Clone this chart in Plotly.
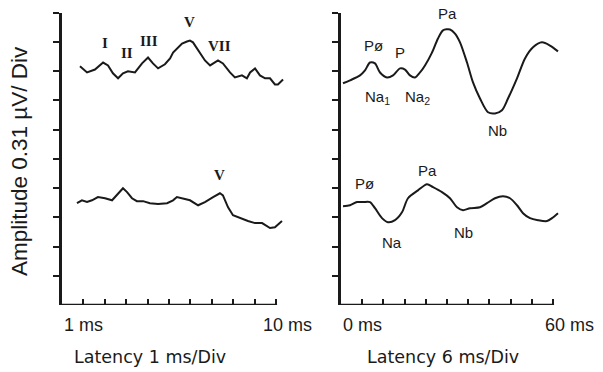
import plotly.graph_objects as go

# ---------------- data (latency in ms, amplitude in divisions of 0.31 uV) -------------
abr_top_ms = [0.84, 1.17, 1.54, 1.92, 2.15, 2.38, 2.62, 2.85, 3.08, 3.41, 3.74, 4.02, 4.25,
              4.49, 4.81, 5.05, 5.19, 5.42, 5.61, 5.84, 5.98, 6.12, 6.36, 6.68, 6.92, 7.29,
              7.52, 7.85, 8.08, 8.41, 8.64, 8.79, 9.02, 9.25, 9.49, 9.72, 9.95, 10.09, 10.33]
abr_top_amp = [8.16, 7.95, 8.05, 8.29, 8.19, 7.92, 7.75, 7.92, 7.99, 7.95, 8.26, 8.46, 8.26,
               8.09, 8.23, 8.43, 8.63, 8.81, 8.94, 9.01, 9.04, 8.98, 8.70, 8.36, 8.19, 8.36,
               8.26, 7.95, 7.78, 7.85, 7.75, 7.95, 8.09, 7.85, 7.75, 7.75, 7.54, 7.54, 7.71]

abr_bot_ms = [0.70, 0.93, 1.17, 1.40, 1.68, 2.01, 2.34, 2.57, 2.85, 3.04, 3.27, 3.50, 3.79,
              4.11, 4.49, 4.91, 5.19, 5.37, 5.61, 5.98, 6.36, 6.68, 7.06, 7.38, 7.52, 7.76,
              7.99, 8.41, 8.69, 9.02, 9.35, 9.72, 9.95, 10.28]
abr_bot_amp = [3.48, 3.58, 3.52, 3.58, 3.69, 3.65, 3.58, 3.75, 3.99, 3.86, 3.65, 3.55, 3.55,
               3.48, 3.45, 3.48, 3.58, 3.69, 3.65, 3.58, 3.41, 3.52, 3.69, 3.82, 3.75, 3.34,
               3.07, 2.94, 2.87, 2.80, 2.80, 2.63, 2.66, 2.87]

mlr_top_ms = [-5.43, -3.45, -0.62, 0.79, 2.21, 3.62, 5.04, 7.02, 8.72, 10.70, 12.11, 13.53,
              14.94, 16.36, 17.77, 19.75, 21.45, 22.87, 24.85, 26.26, 27.68, 29.66, 31.36,
              33.34, 35.60, 37.58, 39.56, 41.26, 43.81, 46.07, 48.34, 50.88, 53.15, 55.41]
mlr_top_amp = [7.58, 7.68, 7.85, 8.02, 8.29, 8.26, 7.95, 7.78, 7.85, 8.09, 8.05, 7.85,
               7.78, 7.95, 8.19, 8.63, 9.11, 9.39, 9.42, 9.28, 8.98, 8.29, 7.61,
               7.06, 6.59, 6.55, 6.66, 7.06, 7.75, 8.43, 8.81, 8.98, 8.87, 8.67]

mlr_bot_ms = [-5.43, -3.45, -1.47, 0.23, 2.21, 3.62, 5.60, 7.30, 9.28, 11.26, 12.96, 15.79,
              18.34, 20.04, 22.58, 24.85, 26.83, 28.53, 30.51, 33.34, 35.32, 37.58, 39.85,
              41.83, 43.81, 45.51, 47.49, 49.75, 52.30, 53.71, 55.41]
mlr_bot_amp = [3.38, 3.41, 3.52, 3.52, 3.52, 3.31, 2.97, 2.83, 2.90, 3.17, 3.65, 3.92,
               4.13, 4.03, 3.86, 3.65, 3.34, 3.24, 3.31, 3.34, 3.48, 3.65, 3.72,
               3.65, 3.41, 3.14, 2.97, 2.90, 2.87, 2.97, 3.14]

abr_labels = ["I", "II", "III", "V", "VII", "V"]
abr_label_ms = [2.01, 3.04, 4.07, 5.98, 7.34, 7.38]
abr_label_amp = [8.94, 8.60, 9.04, 9.66, 8.87, 4.44]

mlr_labels = ["Pø", "P", "Na<sub>1</sub>", "Na<sub>2</sub>", "Pa", "Nb", "Pø", "Pa", "Na", "Nb"]
mlr_label_ms = [3.06, 10.70, 4.19, 15.51, 24.28, 38.15, 0.79, 18.34, 8.43, 28.53]
mlr_label_amp = [8.87, 8.63, 7.10, 7.10, 9.97, 5.97, 4.16, 4.61, 2.12, 2.49]

abr_ticks = [1, 2, 3, 4, 5, 6, 7, 8, 9, 10]
mlr_ticks = [0, 6, 12, 18, 24, 30, 36, 42, 48, 54]
amp_ticks = [1, 2, 3, 4, 5, 6, 7, 8, 9, 10]

abr_tick_labels = ["1 ms", "10 ms"]
abr_tick_label_ms = [1.0, 10.56]
mlr_tick_labels = ["0 ms", "60 ms"]
mlr_tick_label_ms = [0.0, 58.8]

y_title = "Amplitude 0.31 µV/ Div"
x_titles = ["Latency 1 ms/Div", "Latency 6 ms/Div"]

# ---------------- figure -------------
W, H = 603, 372
ink = "#1a1a1a"
fig = go.Figure()

fig.add_trace(go.Scatter(x=abr_top_ms, y=abr_top_amp, mode="lines", xaxis="x", yaxis="y",
                         line=dict(color=ink, width=2), showlegend=False))
fig.add_trace(go.Scatter(x=abr_bot_ms, y=abr_bot_amp, mode="lines", xaxis="x", yaxis="y",
                         line=dict(color=ink, width=2), showlegend=False))
fig.add_trace(go.Scatter(x=mlr_top_ms, y=mlr_top_amp, mode="lines", xaxis="x2", yaxis="y2",
                         line=dict(color=ink, width=2, shape="spline", smoothing=0.8),
                         showlegend=False))
fig.add_trace(go.Scatter(x=mlr_bot_ms, y=mlr_bot_amp, mode="lines", xaxis="x2", yaxis="y2",
                         line=dict(color=ink, width=2, shape="spline", smoothing=0.8),
                         showlegend=False))

ydom = [(H - 305) / H, (H - 12.5) / H]
common_x = dict(showline=False, showgrid=False, zeroline=False, ticks="inside", ticklen=6,
                tickwidth=2, tickcolor=ink, showticklabels=False)
common_y = dict(showline=True, linewidth=2.5, linecolor=ink, showgrid=False, zeroline=False,
                ticks="outside", ticklen=6, tickwidth=2, tickcolor=ink, showticklabels=False,
                range=[0, 10], tickvals=amp_ticks, domain=ydom)

fig.update_layout(
    width=W, height=H, margin=dict(l=0, r=0, t=0, b=0, autoexpand=False),
    paper_bgcolor="white", plot_bgcolor="white",
    xaxis=dict(domain=[62 / W, 300 / W], range=[0, 238 / 21.4], tickvals=abr_ticks,
               anchor="y", **common_x),
    yaxis=dict(anchor="x", **common_y),
    xaxis2=dict(domain=[341 / W, 600 / W], range=[-6, -6 + 259 * 6 / 21.2], tickvals=mlr_ticks,
                anchor="y2", **common_x),
    yaxis2=dict(anchor="x2", **common_y),
)

# horizontal axis lines
fig.add_shape(type="line", xref="x", yref="y", x0=0, x1=10.05, y0=0, y1=0,
              line=dict(color=ink, width=2.5))
fig.add_shape(type="line", xref="x2", yref="y2", x0=-6, x1=54.3, y0=0, y1=0,
              line=dict(color=ink, width=2.5))

anc = dict(showarrow=False, xanchor="center", yanchor="middle")

# peak labels
for t, x, y in zip(abr_labels, abr_label_ms, abr_label_amp):
    fig.add_annotation(text="<b>" + t + "</b>", x=x, y=y, xref="x", yref="y", **anc,
                       font=dict(family="Liberation Serif", size=15, color=ink))
for t, x, y in zip(mlr_labels, mlr_label_ms, mlr_label_amp):
    fig.add_annotation(text=t, x=x, y=y, xref="x2", yref="y2", **anc,
                       font=dict(family="Liberation Sans", size=15, color=ink))

# tick labels
lab_y = (H - 325) / H
for t, x in zip(abr_tick_labels, abr_tick_label_ms):
    fig.add_annotation(text=t, x=x, y=lab_y, xref="x", yref="paper", **anc,
                       font=dict(family="Liberation Sans", size=18, color=ink))
for t, x in zip(mlr_tick_labels, mlr_tick_label_ms):
    fig.add_annotation(text=t, x=x, y=lab_y, xref="x2", yref="paper", **anc,
                       font=dict(family="Liberation Sans", size=18, color=ink))

# axis titles
fig.add_annotation(text=y_title, x=20 / W, y=(H - 161) / H, xref="paper", yref="paper",
                   textangle=-90, **anc,
                   font=dict(family="Liberation Sans", size=22.5, color=ink))
for t, xc in zip(x_titles, [150, 443]):
    fig.add_annotation(text=t, x=xc / W, y=(H - 357) / H, xref="paper", yref="paper", **anc,
                       font=dict(family="DejaVu Sans", size=17.5, color=ink))

fig.write_html("out.html", config={"displayModeBar": False},
               post_script="document.body.style.margin='0';")
